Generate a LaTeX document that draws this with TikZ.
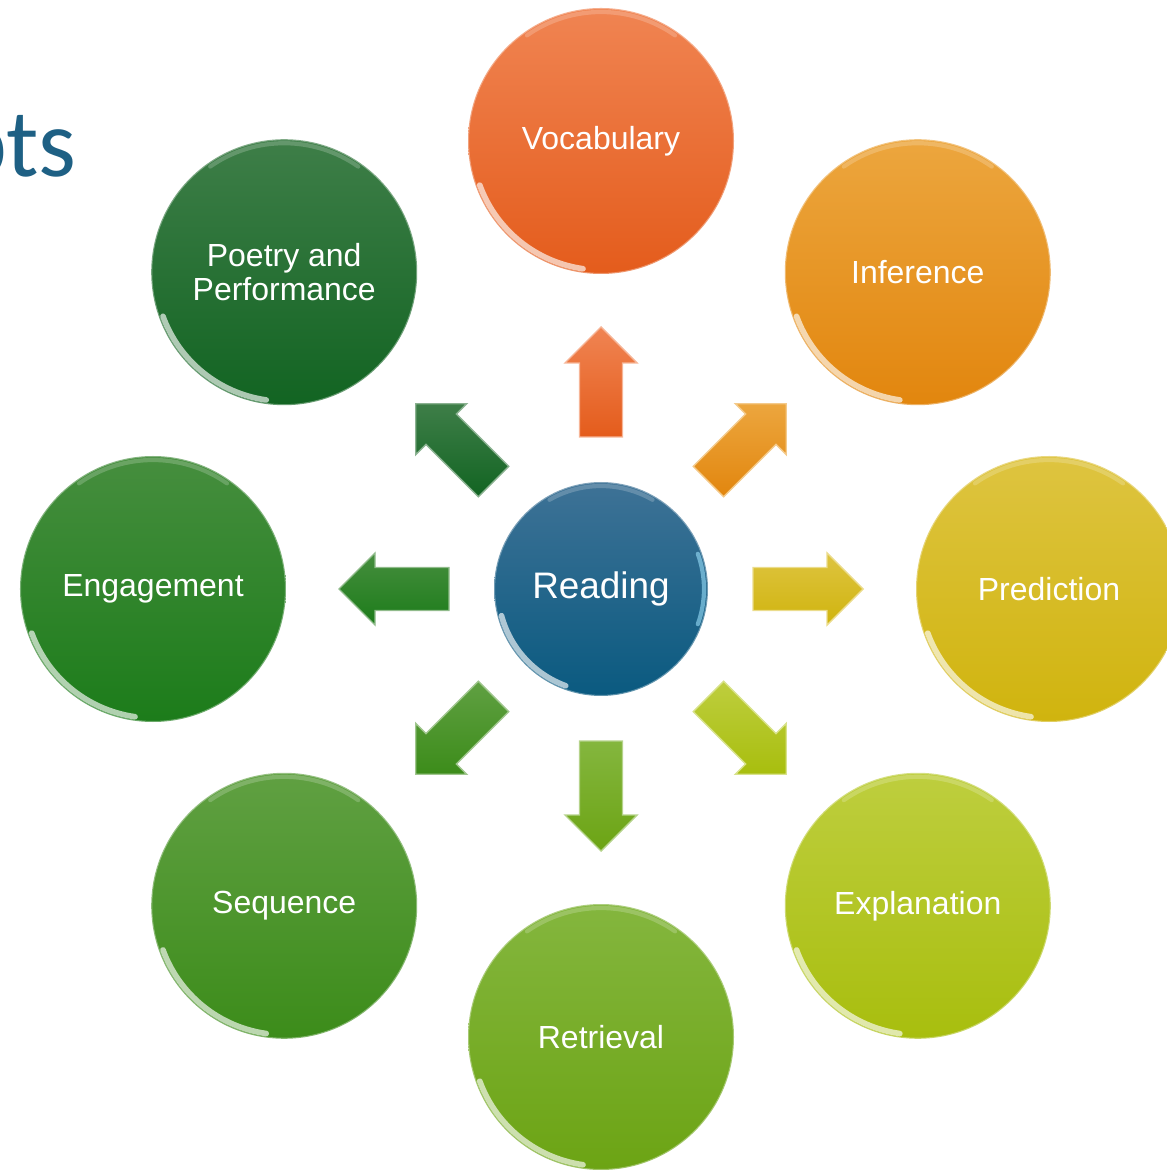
\documentclass[tikz,border=0pt]{standalone}
\usepackage{fontspec}
\setmainfont{Liberation Sans}
\newfontfamily\headfont{Carlito}

\definecolor{titleblue}{RGB}{30,96,132}
\definecolor{readT}{RGB}{62,114,150}
\definecolor{readB}{RGB}{10,90,128}
\definecolor{vocT}{RGB}{240,132,82}
\definecolor{vocB}{RGB}{228,92,28}
\definecolor{infT}{RGB}{236,166,62}
\definecolor{infB}{RGB}{226,134,14}
\definecolor{preT}{RGB}{222,196,64}
\definecolor{preB}{RGB}{208,180,14}
\definecolor{expT}{RGB}{190,206,62}
\definecolor{expB}{RGB}{168,190,14}
\definecolor{retT}{RGB}{132,182,62}
\definecolor{retB}{RGB}{108,164,20}
\definecolor{seqT}{RGB}{96,160,66}
\definecolor{seqB}{RGB}{60,140,26}
\definecolor{engT}{RGB}{70,142,62}
\definecolor{engB}{RGB}{28,124,26}
\definecolor{poeT}{RGB}{62,126,72}
\definecolor{poeB}{RGB}{18,100,34}

\tikzset{
  bubble/.style={circle,minimum size=2.66cm,inner sep=0pt,text=white,
    align=center,font=\fontsize{9.1}{9.5}\selectfont,
    draw=white,draw opacity=0.35,line width=0.6pt},
  gloss/.style={white,line cap=round,opacity=0.65,line width=1.6pt},
  rim/.style={white,line cap=round,opacity=0.2,line width=1.2pt}
}

\begin{document}
\begin{tikzpicture}
\useasboundingbox (-6.01,-5.81) rectangle (5.65,5.89);

\node [anchor=base east,text=titleblue,font=\headfont\fontsize{27.5}{30}\selectfont]
  (title) at (-5.12,4.12) {pts};

\node [bubble,minimum size=2.14cm,font=\fontsize{10.5}{12}\selectfont,
  top color=readT,bottom color=readB] (read) at (0,0) {Reading};
\draw [gloss] ([shift={(195:1.03)}]read.center) arc [start angle=195,end angle=250,radius=1.03];
\draw [rim] ([shift={(60:1.03)}]read.center) arc [start angle=60,end angle=120,radius=1.03];
\draw [rim,cyan!40!white,opacity=0.6] ([shift={(-20:1.03)}]read.center) arc [start angle=-20,end angle=20,radius=1.03];

\foreach \a/\nm/\txt/\ct/\cb in {90/voc/Vocabulary/vocT/vocB,
  45/inf/Inference/infT/infB, 0/pre/Prediction/preT/preB,
  -45/exp/Explanation/expT/expB, -90/ret/Retrieval/retT/retB,
  -135/seq/Sequence/seqT/seqB, 180/eng/Engagement/engT/engB,
  135/poe/{Poetry and\\Performance}/poeT/poeB}
{
  \node [bubble,top color=\ct,bottom color=\cb] (\nm) at (\a:4.48) {\txt};
  \draw [gloss] ([shift={(200:1.29)}]\nm.center) arc [start angle=200,end angle=262,radius=1.29];
  \draw [rim] ([shift={(55:1.29)}]\nm.center) arc [start angle=55,end angle=125,radius=1.29];
  \shade [rotate=\a,top color=\ct,bottom color=\cb,draw=\ct!60!white,line width=0.4pt]
    (1.52,-0.215) -- (2.26,-0.215) -- (2.26,-0.36) -- (2.62,0)
    -- (2.26,0.36) -- (2.26,0.215) -- (1.52,0.215) -- cycle;
}
\end{tikzpicture}
\end{document}
